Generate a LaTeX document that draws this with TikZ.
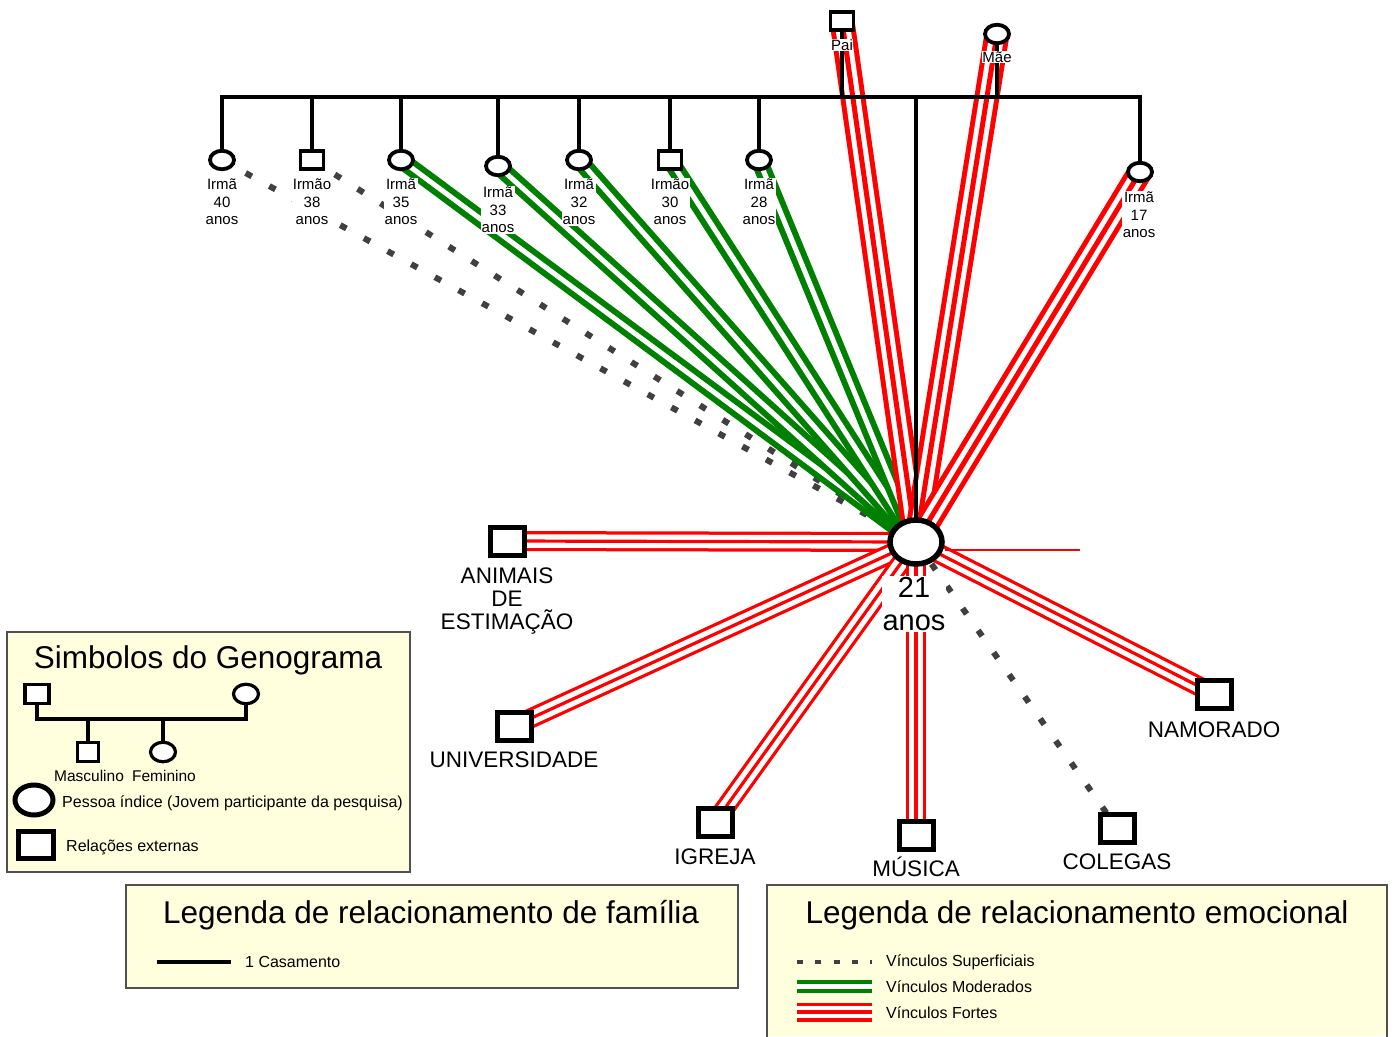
\documentclass[tikz,border=0pt]{standalone}
\usepackage{fontspec}
\setmainfont{Liberation Sans}
\usetikzlibrary{shapes.geometric}
\pgfdeclarelayer{boxes}
\pgfdeclarelayer{links}
\pgfdeclarelayer{family}
\pgfsetlayers{boxes,links,family,main}
\definecolor{wgray}{HTML}{404040}
\definecolor{mgreen}{HTML}{008000}
\definecolor{boxfill}{HTML}{FFFFDD}
\definecolor{boxline}{HTML}{505050}
\begin{document}
\begin{tikzpicture}[x=1pt,y=-1pt,
  fem/.style={ellipse, draw, line width=3.8pt, fill=white, minimum width=24pt, minimum height=18.5pt, inner sep=0pt},
  masc/.style={rectangle, draw, line width=3.8pt, fill=white, minimum width=23pt, minimum height=18.5pt, inner sep=0pt},
  extbox/.style={rectangle, draw, line width=5pt, fill=white, minimum width=34pt, minimum height=28pt, inner sep=0pt},
  indexnode/.style={ellipse, draw, line width=5.5pt, fill=white, minimum width=52pt, minimum height=44pt, inner sep=0pt},
  lbl/.style={fill=white, inner sep=0.6pt, align=center, font=\fontsize{15}{17.6}\selectfont},
  extlbl/.style={inner sep=0pt, align=center, font=\fontsize{22.5}{23}\selectfont},
  idxlbl/.style={fill=white, inner sep=1pt, align=center, font=\fontsize{29}{33}\selectfont},
  legtxt/.style={inner sep=0pt, anchor=west, font=\fontsize{16}{18}\selectfont},
  legtitle/.style={inner sep=0pt, font=\fontsize{31.5}{34}\selectfont},
  legbox/.style={fill=boxfill, draw=boxline, line width=2pt},
  famline/.style={draw=black, line width=3.6pt, line cap=rect},
  weak/.style={draw=wgray, line width=6pt, dash pattern=on 7pt off 20pt},
  weakleg/.style={draw=wgray, line width=3.5pt, dash pattern=on 6pt off 12.3pt},
  moderate/.style={draw=mgreen, line width=17pt, postaction={draw=white, line width=5pt}},
  moderateleg/.style={draw=mgreen, line width=12.5pt, postaction={draw=white, line width=5.5pt}},
  strongfam/.style={draw=red, line width=25pt, postaction={draw=white, line width=15pt}, postaction={draw=red, line width=5pt}},
  strongext/.style={draw=red, line width=20pt, postaction={draw=white, line width=13.5pt}, postaction={draw=red, line width=3.2pt}},
  strongleg/.style={draw=red, line width=19pt, postaction={draw=white, line width=12.5pt}, postaction={draw=red, line width=3.2pt}}
]
\useasboundingbox (0,0) rectangle (1397,1036);

% ---- family nodes
\node[masc] (pai) at (842,21) {};
\node[fem]  (mae) at (997,34) {};
\node[fem]  (s40) at (222,160) {};
\node[masc] (s38) at (312,160) {};
\node[fem]  (s35) at (401,160) {};
\node[fem]  (s33) at (498,166) {};
\node[fem]  (s32) at (579,160) {};
\node[masc] (s30) at (670,160) {};
\node[fem]  (s28) at (759,160) {};
\node[fem]  (s17) at (1140,172) {};
\node[indexnode] (idx) at (916,542) {};

% ---- external nodes
\node[extbox] (animais)  at (507,541) {};
\node[extbox] (univ)     at (514,726) {};
\node[extbox] (igreja)   at (715,822) {};
\node[extbox] (musica)   at (916,835) {};
\node[extbox] (colegas)  at (1117,828) {};
\node[extbox] (namorado) at (1214,694) {};

% ---- labels
\node[lbl] (lpai) at (842,45) {Pai};
\node[lbl] (lmae) at (997,57) {Mãe};
\node[lbl] (l40) at (222,202) {Irmã\\40\\anos};
\node[lbl] (l38) at (312,202) {Irmão\\38\\anos};
\node[lbl] (l35) at (401,202) {Irmã\\35\\anos};
\node[lbl] (l33) at (498,210) {Irmã\\33\\anos};
\node[lbl] (l32) at (579,202) {Irmã\\32\\anos};
\node[lbl] (l30) at (670,202) {Irmão\\30\\anos};
\node[lbl] (l28) at (759,202) {Irmã\\28\\anos};
\node[lbl] (l17) at (1139,215) {Irmã\\17\\anos};
\node[idxlbl] (lidx) at (914,604) {21\\anos};
\node[extlbl] (lanimais) at (507,601) {ANIMAIS\\DE\\ESTIMAÇÃO};
\node[extlbl] (luniv) at (514,760) {UNIVERSIDADE};
\node[extlbl] (ligreja) at (715,857) {IGREJA};
\node[extlbl] (lmusica) at (916,867) {MÚSICA};
\node[extlbl] (lcolegas) at (1117,862) {COLEGAS};
\node[extlbl] (lnamorado) at (1214,730) {NAMORADO};

% ---- connectors
\begin{pgfonlayer}{links}
  \draw[weak] (s40.center) -- (idx.center);
  \draw[weak] (s38.center) -- (idx.center);
  \draw[weak] (idx.center) -- (colegas.center);
  \draw[moderate] (s35.center) -- (idx.center);
  \draw[moderate] (s33.center) -- (idx.center);
  \draw[moderate] (s32.center) -- (idx.center);
  \draw[moderate] (s30.center) -- (idx.center);
  \draw[moderate] (s28.center) -- (idx.center);
  \draw[strongfam] (pai.center) -- (idx.center);
  \draw[strongfam] (mae.center) -- (idx.center);
  \draw[strongfam] (s17.center) -- (idx.center);
  \draw[strongext] (idx.center) -- (animais.center);
  \draw[strongext] (idx.center) -- (univ.center);
  \draw[strongext] (idx.center) -- (igreja.center);
  \draw[strongext] (idx.center) -- (musica.center);
  \draw[strongext] (idx.center) -- (namorado.center);
  \coordinate (thinend) at (1080,550);
  \draw[red, line width=1.5pt] (idx.east |- thinend) -- (thinend);
\end{pgfonlayer}

% ---- family (marriage) lines
\begin{pgfonlayer}{family}
  \coordinate (barL) at (222,97);
  \coordinate (barR) at (1140,97);
  \draw[famline] (barL) -- (barR);
  \foreach \n in {s40,s38,s35,s33,s32,s30,s28,s17,pai,mae,idx}
    \draw[famline] (\n.center) -- (\n.center |- barL);
\end{pgfonlayer}

% ---- legend boxes
\begin{pgfonlayer}{boxes}
  \draw[legbox] (7,632) rectangle (410,872);
  \draw[legbox] (126,885) rectangle (738,988);
  \fill[boxfill] (767,885) rectangle (1387,1036);
  \draw[boxline, line width=2pt] (767,1037) -- (767,885) -- (1387,885) -- (1387,1037);
\end{pgfonlayer}

% ---- legend: symbols
\node[legtitle] (ktitle) at (208,660) {Simbolos do Genograma};
\node[masc, line width=3.2pt, minimum width=24pt, minimum height=19pt] (ksq) at (37,694) {};
\node[fem, line width=3.2pt, minimum width=25pt, minimum height=19.5pt] (kci) at (246,694) {};
\node[masc, line width=3.2pt, minimum width=21pt, minimum height=19pt] (kmsq) at (88,752) {};
\node[fem, line width=3.2pt, minimum width=25pt, minimum height=19.5pt] (kfci) at (163,752) {};
\begin{pgfonlayer}{family}
  \coordinate (kbar) at (37,719);
  \draw[famline, line width=3.2pt] (ksq.center) -- (kbar) -- (kci.center |- kbar) -- (kci.center);
  \draw[famline, line width=3.2pt] (kmsq.center) -- (kmsq.center |- kbar);
  \draw[famline, line width=3.2pt] (kfci.center) -- (kfci.center |- kbar);
\end{pgfonlayer}
\node[inner sep=0pt, font=\fontsize{15.5}{18}\selectfont] (kmasc) at (89,776) {Masculino};
\node[inner sep=0pt, font=\fontsize{15.5}{18}\selectfont] (kfem) at (164,776) {Feminino};
\node[ellipse, draw, line width=5pt, fill=white, minimum width=38pt, minimum height=30pt, inner sep=0pt] (kidx) at (34,800) {};
\node[legtxt] (kpess) at (62,803) {Pessoa índice (Jovem participante da pesquisa)};
\node[extbox, minimum width=35pt, minimum height=27pt] (kext) at (36,845) {};
\node[legtxt] (krel) at (66,847) {Relações externas};

% ---- legend: family
\node[legtitle] (ftitle) at (431,915) {Legenda de relacionamento de família};
\coordinate (fa) at (157,962);
\coordinate (fb) at (231,962);
\draw[famline, line width=3.6pt, line cap=butt] (fa) -- (fb);
\node[legtxt] (fcas) at (245,962) {1 Casamento};

% ---- legend: emotional
\node[legtitle] (etitle) at (1077,915) {Legenda de relacionamento emocional};
\coordinate (wa) at (797,962);
\coordinate (wb) at (872,962);
\draw[weakleg] (wa) -- (wb);
\coordinate (ma) at (797,986.5);
\coordinate (mb) at (872,986.5);
\draw[moderateleg] (ma) -- (mb);
\coordinate (sa) at (797,1012);
\coordinate (sb) at (872,1012);
\draw[strongleg] (sa) -- (sb);
\node[legtxt] (evs) at (886,962) {Vínculos Superficiais};
\node[legtxt] (evm) at (886,987) {Vínculos Moderados};
\node[legtxt] (evf) at (886,1013) {Vínculos Fortes};
\end{tikzpicture}
\end{document}
